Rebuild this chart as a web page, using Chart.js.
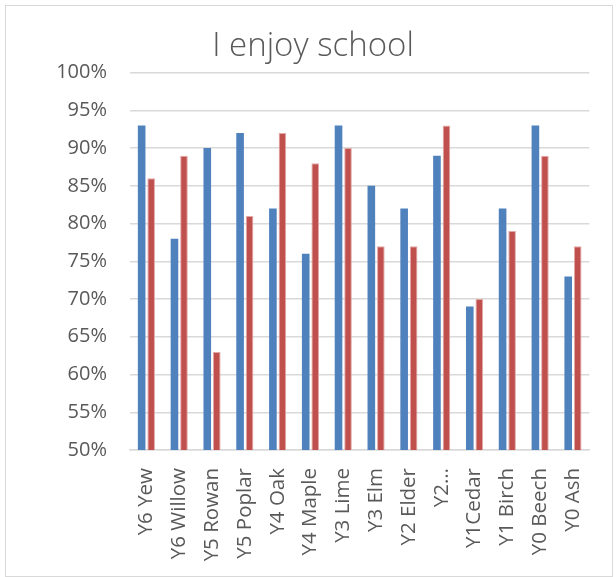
<!DOCTYPE html>
<html>
<head>
<meta charset="utf-8">
<script src="https://cdn.jsdelivr.net/npm/chart.js@4"></script>
<style>
html,body{margin:0;padding:0;background:#fff;}
#wrap{position:relative;width:616px;height:577px;}
</style>
</head>
<body>
<div id="wrap"><canvas id="c" width="616" height="577"></canvas></div>
<script>
const categories = ["Y6 Yew","Y6 Willow","Y5 Rowan","Y5 Poplar","Y4 Oak","Y4 Maple","Y3 Lime","Y3 Elm","Y2 Elder","Y2\u2026","Y1Cedar","Y1 Birch","Y0 Beech","Y0 Ash"];
const seriesBlue = [93,78,90,92,82,76,93,85,82,89,69,82,93,73];
const seriesRed  = [86,89,63,81,92,88,90,77,77,93,70,79,89,77];
const yTicks = [50,55,60,65,70,75,80,85,90,95,100];

const borderPlugin = {
  id:'outerBorder',
  beforeDraw(chart){
    const ctx = chart.ctx;
    ctx.save();
    ctx.fillStyle='#fff';
    ctx.fillRect(0,0,chart.width,chart.height);
    ctx.strokeStyle='#d9d9d9';
    ctx.lineWidth=1;
    ctx.strokeRect(5.5,5.5,chart.width-9,chart.height-6);
    ctx.restore();
  }
};

const TXT = '#595959';
new Chart(document.getElementById('c'), {
  type:'bar',
  data:{
    labels: categories,
    datasets:[
      {label:'Series1', data: seriesBlue, backgroundColor:'#4F81BD', borderWidth:0,
       categoryPercentage:0.58, barPercentage:0.8},
      {label:'Series2', data: seriesRed, backgroundColor:'#C0504D', borderColor:'#E2A9A7', borderWidth:1,
       categoryPercentage:0.58, barPercentage:0.8}
    ]
  },
  options:{
    responsive:false,
    animation:false,
    layout:{padding:{left:22,right:12,top:8,bottom:0}},
    plugins:{
      legend:{display:false},
      tooltip:{enabled:false},
      title:{display:true, text:'I enjoy school', color:TXT,
        font:{family:'Open Sans', size:33, weight:300, lineHeight:1.2},
        padding:{top:19,bottom:6}}
    },
    scales:{
      x:{
        grid:{display:false, drawTicks:false},
        border:{display:true, color:'#d9d9d9', width:1.5},
        ticks:{color:TXT, font:{family:'Open Sans', size:20.5}, minRotation:90, maxRotation:90, padding:18, autoSkip:false},
        afterFit(s){ s.height = 127; }
      },
      y:{
        min:50, max:100,
        afterBuildTicks(s){ s.ticks = yTicks.map(v=>({value:v})); },
        grid:{color:'#d9d9d9', lineWidth:1.5, drawTicks:false},
        border:{display:false},
        ticks:{color:TXT, font:{family:'Open Sans', size:20}, padding:23, callback:v=>v+'%'},
        afterFit(s){ s.width = 108; }
      }
    }
  },
  plugins:[borderPlugin]
});
</script>
</body>
</html>
